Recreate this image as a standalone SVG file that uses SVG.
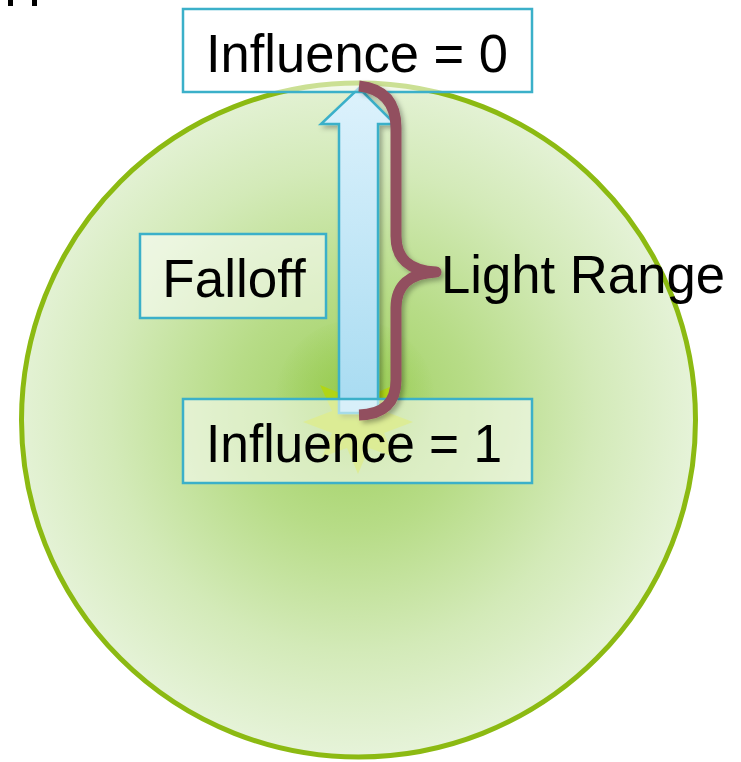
<svg xmlns="http://www.w3.org/2000/svg" width="741" height="762" viewBox="0 0 741 762">
<defs>
<radialGradient id="disc" cx="352" cy="410" r="345" gradientUnits="userSpaceOnUse">
<stop offset="0" stop-color="#9fd060"/>
<stop offset="0.35" stop-color="#b7dc87"/>
<stop offset="0.7" stop-color="#d3eab8"/>
<stop offset="1" stop-color="#e6f3d9"/>
</radialGradient>
<linearGradient id="arrowFill" x1="0" y1="88" x2="0" y2="413" gradientUnits="userSpaceOnUse">
<stop offset="0" stop-color="#ddf2fc"/>
<stop offset="1" stop-color="#a7dbf1"/>
</linearGradient>
<radialGradient id="glow" cx="355" cy="395" r="80" gradientUnits="userSpaceOnUse">
<stop offset="0" stop-color="#94c948" stop-opacity="0.8"/>
<stop offset="1" stop-color="#94c948" stop-opacity="0"/>
</radialGradient>
<filter id="shadow" x="-30%" y="-10%" width="160%" height="120%">
<feDropShadow dx="3" dy="3" stdDeviation="2.5" flood-color="#000" flood-opacity="0.3"/>
</filter>
</defs>
<style>
.box{fill:#ffffff;fill-opacity:0.55;stroke:#3bb0c9;stroke-width:2.5}
.lbl{font-family:"Liberation Sans",Arial,sans-serif;font-size:53px;fill:#000}
</style>
<rect x="0" y="0" width="741" height="762" fill="#ffffff"/>
<rect x="8" y="0" width="5" height="6" fill="#000"/>
<rect x="32" y="0" width="5" height="6" fill="#000"/>
<g id="light-range-circle">
<circle cx="358.5" cy="420" r="337" fill="url(#disc)" stroke="#8cba12" stroke-width="5"/>
<circle cx="355" cy="400" r="80" fill="url(#glow)"/>
<polygon fill="#b4d60e" fill-opacity="0.9" points="413,422 384,411 392,386 369,396 358,368 347,396 320,385 332,411 303,422 332,433 322,457 347,448 358,474 369,448 394,457 384,433"/>
</g>
<g id="falloff-arrow" filter="url(#shadow)">
<polygon points="359,88 395,124 378,124 378,413 339,413 339,124 321,124" fill="url(#arrowFill)" stroke="#3bb0c9" stroke-width="2.5" stroke-linejoin="miter"/>
</g>
<g id="influence-0">
<rect class="box" x="183" y="9" width="349" height="83"/>
<text class="lbl" x="357" y="72" text-anchor="middle" textLength="302" lengthAdjust="spacingAndGlyphs">Influence = 0</text>
</g>
<g id="falloff">
<rect class="box" x="140" y="234" width="186" height="84"/>
<text class="lbl" x="234" y="297" text-anchor="middle">Falloff</text>
</g>
<g id="influence-1">
<rect class="box" x="183" y="399" width="349" height="84"/>
<text class="lbl" x="354" y="462" text-anchor="middle" textLength="296" lengthAdjust="spacingAndGlyphs">Influence = 1</text>
</g>
<g id="connectors">
<g id="light-range-brace" filter="url(#shadow)">
<path d="M359,86 Q396,90 396,128 L396,236 Q396,270 436,272 Q396,274 396,308 L396,380 Q396,414 359,415" fill="none" stroke="#924f5e" stroke-width="11" stroke-linejoin="round"/>
</g>
</g>
<g id="light-range-label">
<text class="lbl" x="441" y="293" textLength="284" lengthAdjust="spacingAndGlyphs">Light Range</text>
</g>
</svg>
